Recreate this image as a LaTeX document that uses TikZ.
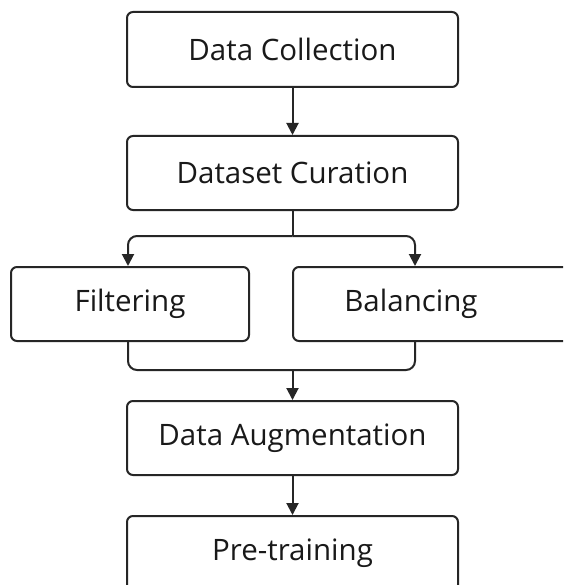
\documentclass[tikz,border=0pt]{standalone}
\usepackage{fontspec}
\setmainfont{Open Sans}
\usetikzlibrary{arrows.meta}
\begin{document}
\begin{tikzpicture}[x=1pt,y=-1pt,
  lbl/.style={inner sep=0pt,text=black!90,font=\fontsize{29.5}{34}\selectfont},
  box/.style={lbl,draw=black!85,line width=2pt,rounded corners=6pt},
  conn/.style={draw=black!85,line width=2pt,rounded corners=9pt},
  arr/.style={conn,-{Triangle[length=12pt,width=12pt]}}]
\useasboundingbox (0,0) rectangle (563,585);
\clip (0,0) rectangle (563,585);
\fill[white] (0,0) rectangle (563,585);
\node[box,minimum width=331pt,minimum height=75pt] (dc) at (292.5,49.5) {Data Collection};
\node[box,minimum width=331pt,minimum height=74pt] (cur) at (292.5,173) {Dataset Curation};
\node[box,minimum width=238pt,minimum height=74pt] (fil) at (130,304) {Filtering};
\node[box,minimum width=290pt,minimum height=74pt] (balbox) at (438,304) {};
\node[lbl] (bal) at (411,304) {Balancing};
\node[box,minimum width=331pt,minimum height=74pt] (aug) at (292.5,438) {Data Augmentation};
\node[box,minimum width=331pt,minimum height=75pt] (pre) at (292.5,553.5) {Pre-training};
\coordinate (split) at (cur.south |- 0,236);
\coordinate (merge) at (cur.south |- 0,370);
\draw[arr] (dc.south) -- (cur.north);
\draw[conn] (cur.south) -- (split);
\draw[arr] (split) -| (fil.north -| 128,0);
\draw[arr] (split) -| (balbox.north -| 415,0);
\draw[conn] (fil.south -| 128,0) |- (merge) -| (balbox.south -| 415,0);
\draw[arr] (merge) -- (aug.north);
\draw[arr] (aug.south) -- (pre.north);
\end{tikzpicture}
\end{document}
